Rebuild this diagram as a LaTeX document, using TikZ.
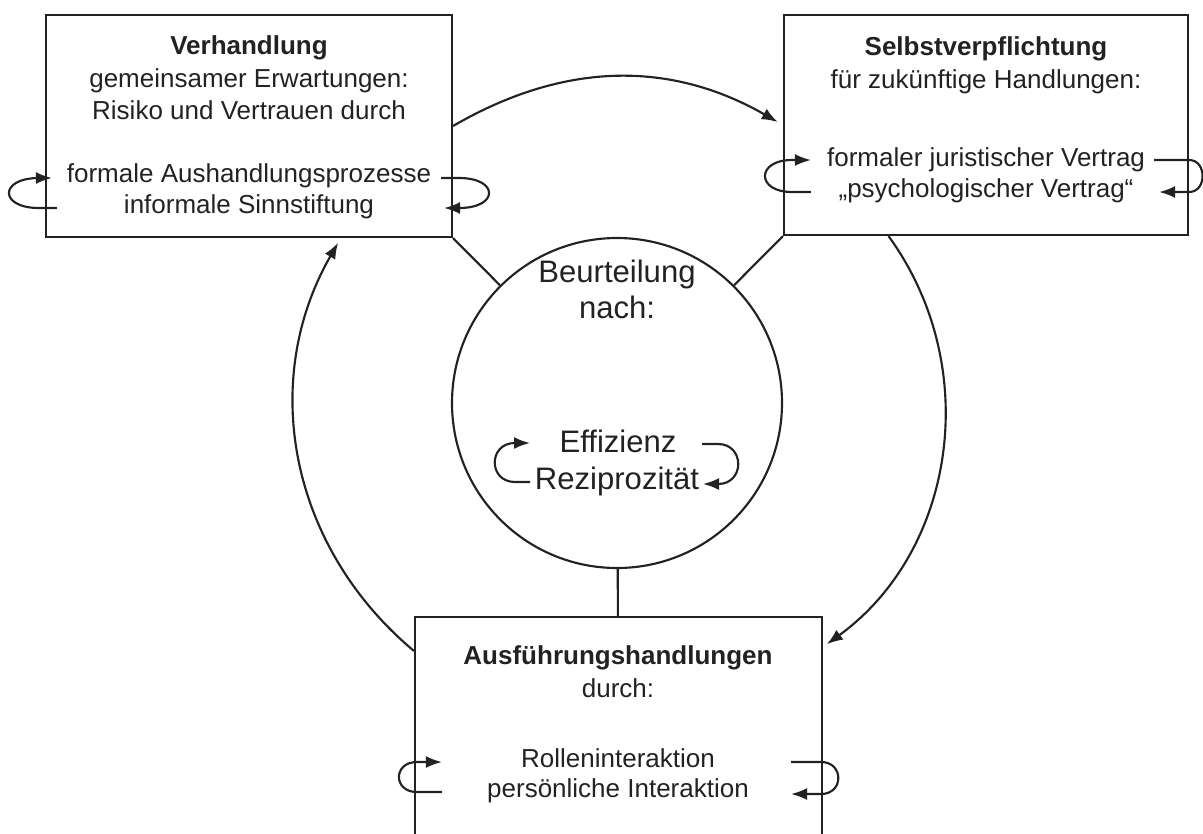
\documentclass[tikz,border=0pt]{standalone}
\usepackage{fontspec}
\setmainfont{Liberation Sans}
\usetikzlibrary{arrows.meta, calc}
\definecolor{ink}{HTML}{222222}

\tikzset{
  box/.style={draw, rectangle, inner sep=0pt},
  txt/.style={inner sep=0pt, align=center, font=\fontsize{19.5}{24.5}\selectfont},
  bigtxt/.style={inner sep=0pt, align=center, font=\fontsize{23.3}{27}\selectfont},
}

\begin{document}
\begin{tikzpicture}[x=0.75pt, y=-0.75pt, line width=1.6pt, color=ink, >={Latex[length=12pt,width=9pt]}]
        \useasboundingbox (0,0) rectangle (1203,833);
        \clip (0,0) rectangle (1203,833);

        % the three boxes and the circle
        \node[box, minimum width=304.5pt, minimum height=166.5pt] (V) at (249,126) {};
        \node[box, minimum width=303pt, minimum height=165pt] (S) at (986,125) {};
        \node[box, minimum width=305.25pt, minimum height=197.25pt] (A) at (618.5,748.5) {};
        \node[draw, circle, inner sep=0pt, minimum size=247.5pt] (C) at (617,403) {};

        % texts
        \node[txt] (Vt) at (249,78) {\textbf{Verhandlung}\\ gemeinsamer Erwartungen:\\ Risiko und Vertrauen durch};
        \node[txt, anchor=base] (V1) at (249,182) {formale Aushandlungsprozesse};
        \node[txt, anchor=base] (V2) at (249,213) {informale Sinnstiftung};

        \node[txt] (St) at (986,65) {\textbf{Selbstverpflichtung}\\ für zukünftige Handlungen:};
        \node[txt, anchor=base] (S1) at (986,166) {formaler juristischer Vertrag};
        \node[txt, anchor=base] (S2) at (986,197) {„psychologischer Vertrag“};

        \node[bigtxt] (Ct) at (617,289) {Beurteilung\\ nach:};
        \node[bigtxt, anchor=base] (C1) at (618,452) {Effizienz};
        \node[bigtxt, anchor=base] (C2) at (617,489) {Reziprozität};

        \node[txt] (At) at (618,672) {\textbf{Ausführungshandlungen}\\ durch:};
        \node[txt, anchor=base] (A1) at (618,767) {Rolleninteraktion};
        \node[txt, anchor=base] (A2) at (618,797) {persönliche Interaktion};

        % spokes to the circle
        \draw (V.south east) -- (C);
        \draw (S.south west) -- (C);
        \draw (C) -- (A);

        % the big cycle
        \draw[->, shorten >=4.5pt] (V.east) to[bend left=30] (S.west);
        \draw[->, shorten >=3.5pt] ($(S.south west)!0.26!(S.south east)$) to[bend left=45] ($(A.north east)+(0,31)$);
        \draw[->, shorten >=4pt] ($(A.north west)+(0,35)$) to[bend left=40] ($(V.south west)!0.725!(V.south east)$);

        % small loops at the edges
        \draw[->] ($(V.west |- V2.base)+(12,-5)$) -- ++(-18,0)
              .. controls +(-40,0) and +(-40,0) .. ($(V.west |- V1.base)+(-6,-4)$) -- ++(13,0);
        \draw[->] ($(V.east |- V1.base)+(-12,-4)$) -- ++(18,0)
              .. controls +(40,0) and +(40,0) .. ($(V.east |- V2.base)+(6,-5)$) -- ++(-15,0);
        \draw[->] ($(S.west |- S2.base)+(28,-5)$) -- ++(-19,0)
              .. controls +(-36,0) and +(-36,0) .. ($(S.west |- S1.base)+(9,-6)$) -- ++(19,0);
        \draw[->] ($(S.east |- S1.base)+(-35,-6)$) -- ++(35,0)
              .. controls +(18,0) and +(18,0) .. ($(S.east |- S2.base)+(0,-5)$) -- ++(-30,0);
        \draw[->] ($(C.center |- C2.base)+(-87,-7)$) -- ++(-15,0)
              .. controls +(-27,0) and +(-27,0) .. ($(C.center |- C1.base)+(-102,-9)$) -- ++(15,0);
        \draw[->] ($(C.center |- C1.base)+(85,-8)$) -- ++(16,0)
              .. controls +(27,0) and +(27,0) .. ($(C.center |- C2.base)+(101,-5)$) -- ++(-15,0);
        \draw[->] ($(A.west |- A2.base)+(28,-5)$) -- ++(-25,0)
              .. controls +(-24,0) and +(-24,0) .. ($(A.west |- A1.base)+(3,-5)$) -- ++(25,0);
        \draw[->] ($(A.east |- A1.base)+(-32,-5)$) -- ++(30,0)
              .. controls +(23,0) and +(23,0) .. ($(A.east |- A2.base)+(-2,-3)$) -- ++(-30,0);
\end{tikzpicture}
\end{document}
